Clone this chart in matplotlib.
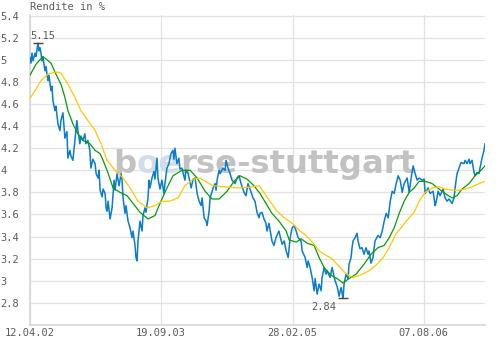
import numpy as np
import matplotlib
matplotlib.use("Agg")
import matplotlib.pyplot as plt
import matplotlib.dates as mdates

# Rendite in % (days since 12.04.2002)
start = np.datetime64("2002-04-12")
end_day = 1824

blue_days = [
    0, 4, 8, 12, 20, 24, 32, 36, 40, 44,
    48, 52, 60, 64, 72, 76, 84, 88, 92, 100,
    104, 112, 120, 124, 132, 136, 140, 148, 152, 160,
    164, 172, 180, 188, 192, 200, 204, 212, 220, 224,
    232, 240, 244, 252, 261, 265, 273, 277, 281, 289,
    293, 301, 305, 309, 313, 321, 329, 337, 341, 349,
    357, 365, 369, 373, 381, 385, 393, 401, 409, 413,
    421, 425, 429, 433, 441, 449, 453, 461, 465, 473,
    477, 481, 489, 497, 501, 509, 513, 521, 529, 537,
    541, 549, 557, 565, 573, 577, 581, 589, 597, 601,
    609, 621, 625, 634, 646, 654, 662, 670, 678, 686,
    690, 698, 706, 710, 718, 722, 734, 742, 746, 750,
    758, 762, 774, 782, 786, 794, 802, 810, 822, 830,
    838, 846, 858, 866, 874, 882, 894, 902, 910, 918,
    922, 930, 938, 946, 950, 958, 970, 978, 986, 998,
    1003, 1011, 1019, 1027, 1035, 1043, 1051, 1059, 1067, 1075,
    1087, 1091, 1103, 1111, 1115, 1123, 1131, 1139, 1143, 1151,
    1159, 1167, 1171, 1179, 1187, 1191, 1203, 1211, 1223, 1231,
    1235, 1239, 1247, 1255, 1259, 1267, 1275, 1279, 1287, 1291,
    1295, 1303, 1311, 1315, 1323, 1331, 1339, 1347, 1355, 1359,
    1367, 1375, 1383, 1395, 1404, 1412, 1420, 1428, 1436, 1444,
    1452, 1460, 1468, 1476, 1484, 1492, 1500, 1512, 1520, 1528,
    1536, 1544, 1552, 1560, 1572, 1580, 1584, 1596, 1604, 1616,
    1624, 1628, 1636, 1644, 1656, 1664, 1672, 1680, 1692, 1700,
    1704, 1712, 1720, 1728, 1740, 1744, 1752, 1760, 1764, 1772,
    1780, 1784, 1792, 1800, 1804, 1812, 1820, 1824,
]
blue_vals = [
    5.02, 4.97, 5.06, 4.99, 5.06, 5.03, 5.15, 5.08, 5.11, 5.06,
    4.99, 5.02, 4.90, 4.94, 4.81, 4.86, 4.72, 4.76, 4.63, 4.54,
    4.58, 4.42, 4.36, 4.45, 4.52, 4.40, 4.29, 4.35, 4.11, 4.18,
    4.13, 4.09, 4.27, 4.45, 4.36, 4.24, 4.31, 4.27, 4.33, 4.24,
    4.27, 4.18, 4.02, 4.10, 4.06, 3.97, 3.93, 4.00, 3.82, 3.76,
    3.83, 3.79, 3.66, 3.63, 3.72, 3.56, 3.66, 3.91, 3.82, 3.97,
    3.86, 3.97, 3.91, 3.75, 3.61, 3.68, 3.54, 3.48, 3.39, 3.45,
    3.32, 3.21, 3.18, 3.36, 3.54, 3.45, 3.59, 3.66, 3.62, 3.75,
    3.91, 3.84, 3.93, 3.99, 3.92, 4.11, 3.93, 3.83, 3.91, 3.79,
    3.88, 4.02, 4.06, 4.15, 4.18, 4.10, 4.20, 4.06, 4.11, 4.01,
    4.02, 3.91, 4.00, 3.97, 3.84, 3.92, 3.93, 3.79, 3.72, 3.68,
    3.75, 3.57, 3.54, 3.50, 3.63, 3.75, 3.84, 3.88, 3.82, 3.91,
    4.00, 3.97, 4.02, 4.00, 4.09, 4.02, 3.97, 3.91, 3.88, 3.93,
    3.95, 3.88, 3.80, 3.77, 3.88, 3.83, 3.75, 3.72, 3.62, 3.57,
    3.61, 3.62, 3.56, 3.52, 3.45, 3.52, 3.36, 3.32, 3.39, 3.45,
    3.40, 3.33, 3.36, 3.27, 3.21, 3.39, 3.48, 3.50, 3.45, 3.39,
    3.36, 3.27, 3.21, 3.12, 3.18, 3.12, 3.03, 2.91, 3.02, 2.88,
    2.97, 2.91, 3.03, 3.12, 3.06, 3.09, 3.03, 3.12, 3.00, 2.95,
    2.91, 2.86, 2.94, 2.84, 2.97, 3.06, 3.02, 3.15, 3.21, 3.30,
    3.36, 3.39, 3.43, 3.36, 3.29, 3.30, 3.24, 3.30, 3.24, 3.27,
    3.16, 3.21, 3.36, 3.41, 3.39, 3.45, 3.54, 3.61, 3.57, 3.72,
    3.81, 3.79, 3.88, 3.95, 3.91, 3.80, 3.88, 3.93, 3.80, 3.93,
    4.04, 3.97, 3.91, 3.93, 3.91, 3.92, 3.79, 3.84, 3.79, 3.81,
    3.68, 3.71, 3.81, 3.77, 3.83, 3.75, 3.72, 3.74, 3.70, 3.75,
    3.84, 3.97, 4.02, 4.07, 4.06, 4.09, 4.06, 4.10, 4.06, 4.09,
    3.98, 3.95, 3.98, 3.97, 4.02, 4.11, 4.18, 4.24,
]

# short moving average (green)
green_days = [
    0, 24, 52, 84, 104, 124, 140, 152, 172, 192,
    212, 240, 261, 281, 293, 309, 333, 361, 389, 413,
    441, 473, 501, 521, 549, 573, 609, 642, 670, 702,
    730, 758, 790, 818, 842, 870, 898, 922, 946, 970,
    998, 1027, 1039, 1067, 1087, 1111, 1139, 1159, 1179, 1207,
    1231, 1255, 1279, 1307, 1339, 1367, 1395, 1420, 1440, 1460,
    1480, 1500, 1520, 1540, 1560, 1584, 1612, 1640, 1664, 1692,
    1712, 1732, 1760, 1784, 1812, 1824,
]
green_vals = [
    4.86, 4.96, 5.03, 4.97, 4.87, 4.78, 4.66, 4.54, 4.42, 4.33,
    4.27, 4.24, 4.18, 4.15, 4.09, 4.00, 3.84, 3.80, 3.77, 3.70,
    3.62, 3.56, 3.59, 3.70, 3.84, 3.95, 4.00, 4.00, 3.93, 3.81,
    3.74, 3.74, 3.81, 3.90, 3.95, 3.92, 3.86, 3.79, 3.70, 3.61,
    3.54, 3.45, 3.37, 3.35, 3.38, 3.34, 3.32, 3.21, 3.12, 3.05,
    3.02, 2.98, 3.02, 3.06, 3.15, 3.24, 3.30, 3.32, 3.39, 3.48,
    3.61, 3.72, 3.80, 3.84, 3.90, 3.90, 3.88, 3.83, 3.79, 3.75,
    3.77, 3.83, 3.88, 3.95, 4.01, 4.04,
]

# long moving average (yellow)
yellow_days = [
    0, 20, 44, 72, 104, 124, 152, 180, 204, 232,
    261, 285, 309, 341, 373, 401, 433, 469, 501, 529,
    561, 593, 621, 654, 682, 710, 734, 782, 838, 890,
    918, 934, 962, 990, 1019, 1051, 1083, 1107, 1139, 1159,
    1187, 1211, 1231, 1255, 1275, 1295, 1323, 1359, 1391, 1416,
    1440, 1468, 1488, 1508, 1540, 1560, 1584, 1612, 1640, 1664,
    1692, 1720, 1744, 1772, 1800, 1824,
]
yellow_vals = [
    4.65, 4.72, 4.81, 4.87, 4.89, 4.88, 4.78, 4.66, 4.54, 4.45,
    4.36, 4.24, 4.09, 4.00, 3.93, 3.84, 3.72, 3.66, 3.68, 3.72,
    3.72, 3.75, 3.86, 3.92, 3.93, 3.89, 3.86, 3.85, 3.84, 3.85,
    3.86, 3.81, 3.72, 3.63, 3.57, 3.52, 3.45, 3.41, 3.33, 3.27,
    3.23, 3.20, 3.15, 3.09, 3.05, 3.03, 3.05, 3.09, 3.15, 3.21,
    3.30, 3.43, 3.48, 3.54, 3.62, 3.72, 3.80, 3.84, 3.85, 3.83,
    3.82, 3.82, 3.83, 3.85, 3.88, 3.90,
]

x_ticks = ["2002-04-12", "2003-09-19", "2005-02-28", "2006-08-07"]
y_ticks = [2.8, 3.0, 3.2, 3.4, 3.6, 3.8, 4.0, 4.2, 4.4, 4.6, 4.8, 5.0, 5.2, 5.4]

txt = "#5a5a5a"
grid_c = "#e2e2e2"
plt.rcParams["font.family"] = ["DejaVu Sans Mono"]
plt.rcParams["font.size"] = 7.3

fig = plt.figure(figsize=(5, 3.5), dpi=100)
ax = fig.add_axes([0.06, 25 / 350, 0.91, 310 / 350])

to_dates = lambda d: start + np.array(d).astype("timedelta64[D]")

ax.plot(to_dates(blue_days), blue_vals, color="#0a7ccc", lw=1.1, zorder=3)
ax.plot(to_dates(green_days), green_vals, color="#0a9a0a", lw=0.9, zorder=4)
ax.plot(to_dates(yellow_days), yellow_vals, color="#ffc800", lw=0.9, zorder=4)

# max / min markers
imax = int(np.argmax(blue_vals))
imin = int(np.argmin(blue_vals))
dmax = to_dates([blue_days[imax]])[0]
dmin = to_dates([blue_days[imin]])[0]
ax.plot([dmax, dmin], [blue_vals[imax], blue_vals[imin]], ls="none",
        marker="_", ms=7, mew=1.0, color="#444444", zorder=5)
ax.annotate(f"{blue_vals[imax]:.2f}", (dmax, blue_vals[imax]),
            xytext=(-5.8, 1.5), textcoords="offset points",
            ha="left", va="bottom", color=txt, fontsize=7.5)
ax.annotate(f"{blue_vals[imin]:.2f}", (dmin, blue_vals[imin]),
            xytext=(-5, -2.5), textcoords="offset points",
            ha="right", va="top", color=txt, fontsize=7.5)

ax.set_xlim(start, start + np.timedelta64(end_day, "D"))
ax.set_ylim(2.6, 5.405)
ax.set_yticks(y_ticks)
ax.set_yticklabels([f"{v:g}" for v in y_ticks])
ax.set_xticks([np.datetime64(d) for d in x_ticks])
ax.xaxis.set_major_formatter(mdates.DateFormatter("%d.%m.%y"))
ax.tick_params(axis="y", length=0, pad=21.6, labelcolor=txt, labelsize=7.5)
ax.tick_params(axis="x", length=0, pad=2.5, labelcolor=txt, labelsize=7.5)
for lab in ax.get_yticklabels():
    lab.set_horizontalalignment("left")

ax.grid(True, color=grid_c, lw=0.9)
ax.set_axisbelow(True)
for s in ["top", "right"]:
    ax.spines[s].set_visible(False)
for s in ["left", "bottom"]:
    ax.spines[s].set_color("#d6d6d6")
    ax.spines[s].set_linewidth(1.2)

fig.text(0.06, 1 - 7 / 350, "Rendite in %", color=txt, fontsize=7.5,
         ha="left", va="center")

# watermark
wm = dict(fontsize=23.3, fontweight="bold", family="DejaVu Sans", zorder=2)
t1 = ax.text(113 / 500, (350 - 173) / 350, "b", transform=fig.transFigure,
             color="#c2c2c2", va="baseline", ha="left", **wm)
t2 = ax.annotate("oe", xy=(1, 0), xycoords=t1, va="bottom", ha="left",
                 color="#d3dcea", **wm)
ax.annotate("rse-stuttgart", xy=(1, 0), xycoords=t2, va="bottom", ha="left",
            color="#c2c2c2", **wm)

fig.savefig("out.png", dpi=100)
